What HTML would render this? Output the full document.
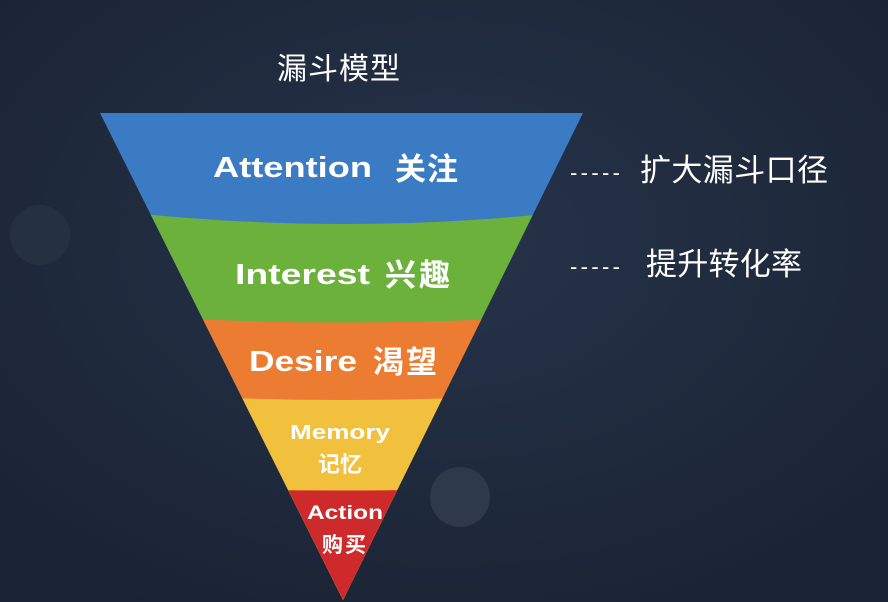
<!DOCTYPE html>
<html><head><meta charset="utf-8"><style>
body{margin:0;width:888px;height:602px;overflow:hidden;background:#1f2a3b}
svg{display:block}
text{font-family:"Liberation Sans","Noto Sans CJK SC",sans-serif;fill:#fff}
</style></head><body>
<svg width="888" height="602" viewBox="0 0 888 602">
<defs>
<radialGradient id="bg" cx="50%" cy="40%" r="70%"><stop offset="0" stop-color="#26334a"/><stop offset="1" stop-color="#1a2333"/></radialGradient>
<clipPath id="tri"><polygon points="100,113 583,113 343,600"/></clipPath>
</defs>
<rect width="888" height="602" fill="url(#bg)"/>
<circle cx="460" cy="497" r="30" fill="#3a4557" opacity="0.6"/>
<circle cx="40" cy="235" r="30" fill="#2c3748" opacity="0.5"/>
<text x="277" y="79" font-size="30" textLength="123">漏斗模型</text>
<g clip-path="url(#tri)">
<rect x="90" y="100" width="510" height="510" fill="#3b7bc3"/>
<path d="M90,208 Q343,240 600,208 L600,610 L90,610Z" fill="#6cb13c"/>
<path d="M90,313 Q343,332 600,313 L600,610 L90,610Z" fill="#ec7c31"/>
<path d="M90,390 Q343,410 600,390 L600,610 L90,610Z" fill="#f1c03c"/>
<path d="M90,485 Q343,496 600,485 L600,610 L90,610Z" fill="#cf2a2b"/>
</g>
<g font-weight="bold">
<text x="213" y="177" font-size="29" textLength="159" lengthAdjust="spacingAndGlyphs">Attention</text>
<text x="395" y="180" font-size="31" textLength="63">关注</text>
<text x="235" y="284" font-size="29" textLength="135" lengthAdjust="spacingAndGlyphs">Interest</text>
<text x="385" y="286" font-size="31" textLength="65">兴趣</text>
<text x="249" y="371" font-size="29" textLength="108" lengthAdjust="spacingAndGlyphs">Desire</text>
<text x="373" y="373" font-size="31" textLength="64">渴望</text>
<text x="290" y="439" font-size="20" textLength="100" lengthAdjust="spacingAndGlyphs">Memory</text>
<text x="318" y="472" font-size="22" textLength="44">记忆</text>
<text x="307" y="519" font-size="19" textLength="76" lengthAdjust="spacingAndGlyphs">Action</text>
<text x="322" y="552" font-size="21" textLength="44">购买</text>
</g>
<text x="570" y="180" font-size="22" textLength="50">-----</text>
<text x="640" y="181" font-size="31" textLength="188">扩大漏斗口径</text>
<text x="570" y="274" font-size="22" textLength="50">-----</text>
<text x="646" y="275" font-size="31" textLength="156">提升转化率</text>
</svg>
</body></html>
